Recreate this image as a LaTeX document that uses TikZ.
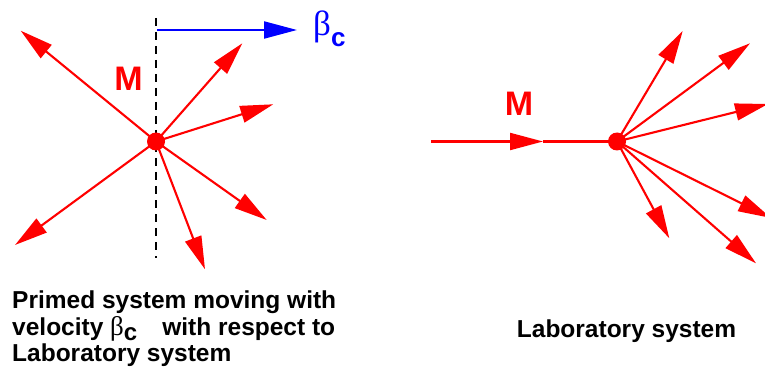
\documentclass[tikz,border=0pt]{standalone}
\usepackage{fontspec}
\setmainfont{Liberation Sans}
\newfontfamily\greekfont{Liberation Serif}
\usetikzlibrary{arrows.meta}
\tikzset{
  ray/.style={draw=red, line width=2.1pt, -{Triangle[length=33pt,width=17pt]}},
  plainray/.style={draw=red, line width=2.1pt},
  vel/.style={draw=blue, line width=2.1pt, -{Triangle[length=33pt,width=17pt]}},
  dashline/.style={draw=black, line width=2pt, dash pattern=on 8pt off 6pt},
  dot/.style={circle, fill=red, inner sep=0pt, minimum size=18pt},
  bigm/.style={text=red, font=\fontsize{34}{34}\selectfont\bfseries, inner sep=0pt},
  lbl/.style={font=\fontsize{24.5}{26.7}\selectfont\bfseries, inner sep=0pt, align=left},
}
\begin{document}
\begin{tikzpicture}[x=1pt,y=-1pt]
\useasboundingbox (0,0) rectangle (765,374);
% ---------- left panel ----------
\coordinate (dtop) at (156,18);
\coordinate (dbot) at (156,258);
\draw[dashline] (dtop) -- (dbot);
\node[dot] (c1) at (156,141.5) {};
\coordinate (a1) at (20.7,30.7);
\coordinate (a2) at (242.3,43.3);
\coordinate (a3) at (273.3,104.3);
\coordinate (a4) at (266.7,220);
\coordinate (a5) at (205,269.3);
\coordinate (a6) at (15,245);
\foreach \t in {a1,a2,a3,a4,a5,a6} \draw[ray] (c1.center) -- (\t);
\node[bigm] (m1) at (128.5,78.5) {M};
\coordinate (bs) at (157,30);
\coordinate (be) at (297,30);
\draw[vel] (bs) -- (be);
\node[anchor=base west, inner sep=0pt, text=blue] (bc) at (313,36)
  {{\greekfont\fontsize{35}{35}\selectfont β}\raisebox{-11pt}{\fontsize{26}{26}\selectfont\bfseries c}};
\node[lbl, anchor=north west] (txt1) at (12,290.5)
  {Primed system moving with\\
   velocity {\greekfont\mdseries\fontsize{27}{27}\selectfont β}\raisebox{-5pt}{\fontsize{24}{24}\selectfont c}\hspace{25pt}with respect to\\
   Laboratory system};
% ---------- right panel ----------
\node[dot] (c2) at (617,141.5) {};
\coordinate (in) at (431,141.5);
\coordinate (mid) at (543,141.5);
\draw[ray] (in) -- (mid);
\draw[plainray] (mid) -- (c2.center);
\coordinate (b1) at (682.7,31);
\coordinate (b2) at (750,43.3);
\coordinate (b3) at (768,104);
\coordinate (b4) at (771,218);
\coordinate (b5) at (756,263.3);
\coordinate (b6) at (669.3,238.3);
\foreach \t in {b1,b2,b3,b4,b5,b6} \draw[ray] (c2.center) -- (\t);
\node[bigm] (m2) at (519,104) {M};
\node[lbl, anchor=base west] (txt2) at (516.7,337.3) {Laboratory system};
\end{tikzpicture}
\end{document}
